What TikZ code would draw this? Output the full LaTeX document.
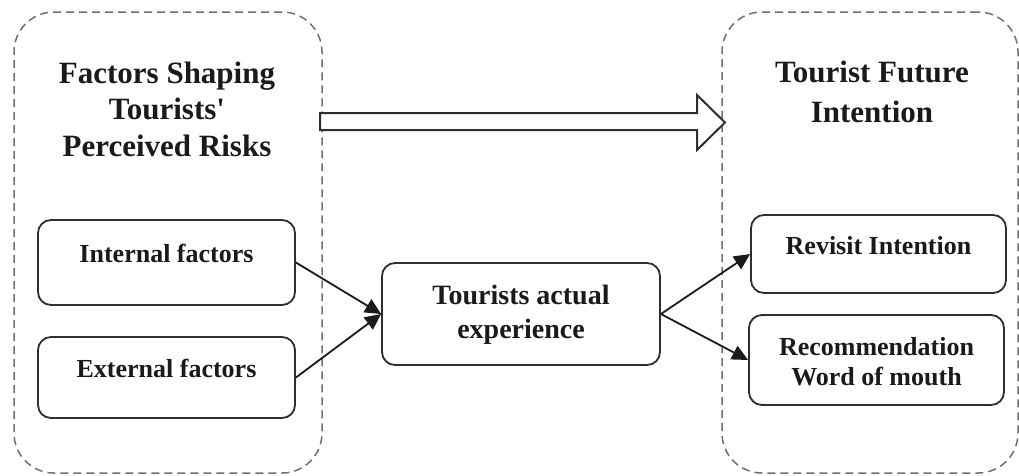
\documentclass[tikz,border=0pt]{standalone}
\usepackage{fontspec}
\setmainfont{Liberation Serif}
\usetikzlibrary{arrows.meta}
\definecolor{ink}{HTML}{1A1A1A}
\definecolor{dashgray}{HTML}{707070}
\definecolor{boxline}{HTML}{2E2E2E}
\tikzset{
  group/.style={draw=dashgray, line width=1.5pt, dash pattern=on 8pt off 5pt, rounded corners=40pt, inner sep=0pt},
  factorbox/.style={draw=boxline, line width=1.8pt, rounded corners=13pt, inner sep=0pt, fill=white},
  lbl/.style={text=ink, font=\bfseries\fontsize{26}{30}\selectfont, align=center},
  ttl/.style={text=ink, align=center},
  link/.style={draw=ink, line width=1.8pt, -{Triangle[length=16pt,width=15pt]}},
  hollow/.style={draw=boxline, line width=2pt, fill=white, line join=miter}
}
\begin{document}
\begin{tikzpicture}[x=1pt,y=-1pt]
\useasboundingbox (0,0) rectangle (1019,475);
% groups
\node[group, minimum width=308pt, minimum height=461pt] (L) at (168,242.5) {};
\node[group, minimum width=296pt, minimum height=461pt] (R) at (870,242.5) {};
% titles
\node[ttl, font=\bfseries\fontsize{31}{36.5}\selectfont] (Lt) at (167,109) {Factors Shaping\\Tourists\textquotesingle\\Perceived Risks};
\node[ttl, font=\bfseries\fontsize{31}{40}\selectfont] (Rt) at (872,92) {Tourist Future\\Intention};
% hollow arrow
\draw[hollow] (320,113) -- (697,113) -- (697,95) -- (725,122.5) -- (697,150) -- (697,130) -- (320,130) -- cycle;
% boxes
\node[factorbox, minimum width=257pt, minimum height=85pt] (int) at (166.5,262.5) {};
\node[lbl] at (166.5,253) {Internal factors};
\node[factorbox, minimum width=257pt, minimum height=81pt] (ext) at (166.5,377.5) {};
\node[lbl] at (166.5,368) {External factors};
\node[factorbox, minimum width=278pt, minimum height=102pt] (exp) at (521,314) {};
\node[lbl, font=\bfseries\fontsize{28}{34}\selectfont] at (521,315) {Tourists actual\\experience};
\node[factorbox, minimum width=255pt, minimum height=78pt] (rev) at (878.5,254) {};
\node[lbl] at (878.5,246) {Revisit Intention};
\node[factorbox, minimum width=255pt, minimum height=90pt] (rec) at (876.5,360) {};
\node[lbl] at (876.5,362) {Recommendation\\Word of mouth};
% connectors
\draw[link] (int.east) -- (exp.west);
\draw[link] (ext.east) -- (exp.west);
\draw[link] (exp.east) -- (rev.west);
\draw[link] (exp.east) -- (rec.west);
\end{tikzpicture}
\end{document}
